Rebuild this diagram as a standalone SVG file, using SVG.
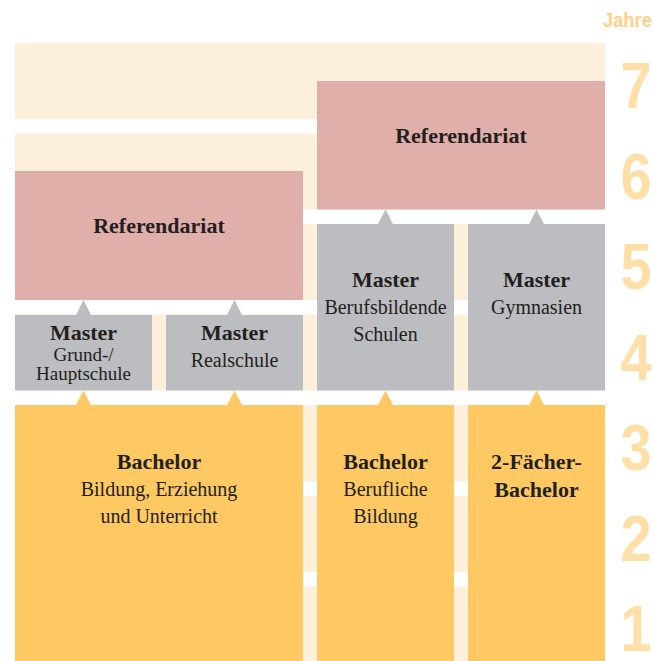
<svg xmlns="http://www.w3.org/2000/svg" width="653" height="661" viewBox="0 0 653 661">
<style>
.band{fill:#FDF0DA}
.ref{fill:#E0AFAA}
.mas{fill:#BCBDC0}
.bac{fill:#FEC962}
.t{font-family:"Liberation Serif","Times New Roman",serif;fill:#231F20;text-anchor:middle}
.b{font-weight:bold;font-size:22px}
.r{font-size:20px}
.s{font-size:19px}
.yr{font-family:"Liberation Sans",Arial,sans-serif;font-weight:bold;font-size:65px;fill:#FEDFA8;text-anchor:middle}
.jh{font-family:"Liberation Sans",Arial,sans-serif;font-weight:bold;font-size:21px;fill:#FDD18A;text-anchor:end}
.ag{fill:#BCBDC0}
.ay{fill:#FEC962}
</style>
<rect width="653" height="661" fill="#FFFFFF"/>
<g id="year-bands">
<rect class="band" x="15" y="43" width="590" height="76"/>
<rect class="band" x="15" y="133.5" width="590" height="76"/>
<rect class="band" x="15" y="224" width="590" height="76"/>
<rect class="band" x="15" y="314.5" width="590" height="76"/>
<rect class="band" x="15" y="405" width="590" height="76.5"/>
<rect class="band" x="15" y="496" width="590" height="76"/>
<rect class="band" x="15" y="586.5" width="590" height="74.5"/>
</g>
<g id="year-labels">
<text class="jh" transform="translate(652,27) scale(0.88,1)">Jahre</text>
<text class="yr" transform="translate(636,108) scale(0.86,1)">7</text>
<text class="yr" transform="translate(636,199) scale(0.86,1)">6</text>
<text class="yr" transform="translate(636,289) scale(0.86,1)">5</text>
<text class="yr" transform="translate(636,380) scale(0.86,1)">4</text>
<text class="yr" transform="translate(636,470) scale(0.86,1)">3</text>
<text class="yr" transform="translate(636,561) scale(0.86,1)">2</text>
<text class="yr" transform="translate(636,651) scale(0.86,1)">1</text>
</g>
<g id="connectors">
<path class="ag" d="M76,315 L83.5,300 L91,315 Z"/>
<path class="ag" d="M227,315 L234.5,300 L242,315 Z"/>
<path class="ag" d="M378,224 L385.5,209.5 L393,224 Z"/>
<path class="ag" d="M529,224 L536.5,209.5 L544,224 Z"/>
<path class="ay" d="M76,405 L83.5,390.5 L91,405 Z"/>
<path class="ay" d="M227,405 L234.5,390.5 L242,405 Z"/>
<path class="ay" d="M378,405 L385.5,390.5 L393,405 Z"/>
<path class="ay" d="M529,405 L536.5,390.5 L544,405 Z"/>
</g>
<g id="ref-left">
<rect class="ref" x="15" y="171" width="288" height="129"/>
<text class="t b" x="159" y="233">Referendariat</text>
</g>
<g id="ref-right">
<rect class="ref" x="317" y="81" width="288" height="128.5"/>
<text class="t b" x="461" y="143">Referendariat</text>
</g>
<g id="master-gh">
<rect class="mas" x="15" y="315" width="137" height="75.5"/>
<text class="t b" x="83.5" y="340">Master</text>
<text class="t s" x="83.5" y="361">Grund-/</text>
<text class="t s" x="83.5" y="380">Hauptschule</text>
</g>
<g id="master-rs">
<rect class="mas" x="166" y="315" width="137" height="75.5"/>
<text class="t b" x="234.5" y="340">Master</text>
<text class="t r" x="234.5" y="366.5">Realschule</text>
</g>
<g id="master-bs">
<rect class="mas" x="317" y="224" width="137" height="166.5"/>
<text class="t b" x="385.5" y="287">Master</text>
<text class="t r" x="385.5" y="313.5">Berufsbildende</text>
<text class="t r" x="385.5" y="341">Schulen</text>
</g>
<g id="master-gym">
<rect class="mas" x="468" y="224" width="137" height="166.5"/>
<text class="t b" x="536.5" y="287">Master</text>
<text class="t r" x="536.5" y="313.5">Gymnasien</text>
</g>
<g id="bachelor-beu">
<rect class="bac" x="15" y="405" width="288" height="256"/>
<text class="t b" x="159" y="468.5">Bachelor</text>
<text class="t r" x="159" y="495.5">Bildung, Erziehung</text>
<text class="t r" x="159" y="522.5">und Unterricht</text>
</g>
<g id="bachelor-bb">
<rect class="bac" x="317" y="405" width="137" height="256"/>
<text class="t b" x="385.5" y="468.5">Bachelor</text>
<text class="t r" x="385.5" y="495.5">Berufliche</text>
<text class="t r" x="385.5" y="522.5">Bildung</text>
</g>
<g id="bachelor-2f">
<rect class="bac" x="468" y="405" width="137" height="256"/>
<text class="t b" x="536.5" y="468.5">2-Fächer-</text>
<text class="t b" x="536.5" y="496.5">Bachelor</text>
</g>
</svg>
